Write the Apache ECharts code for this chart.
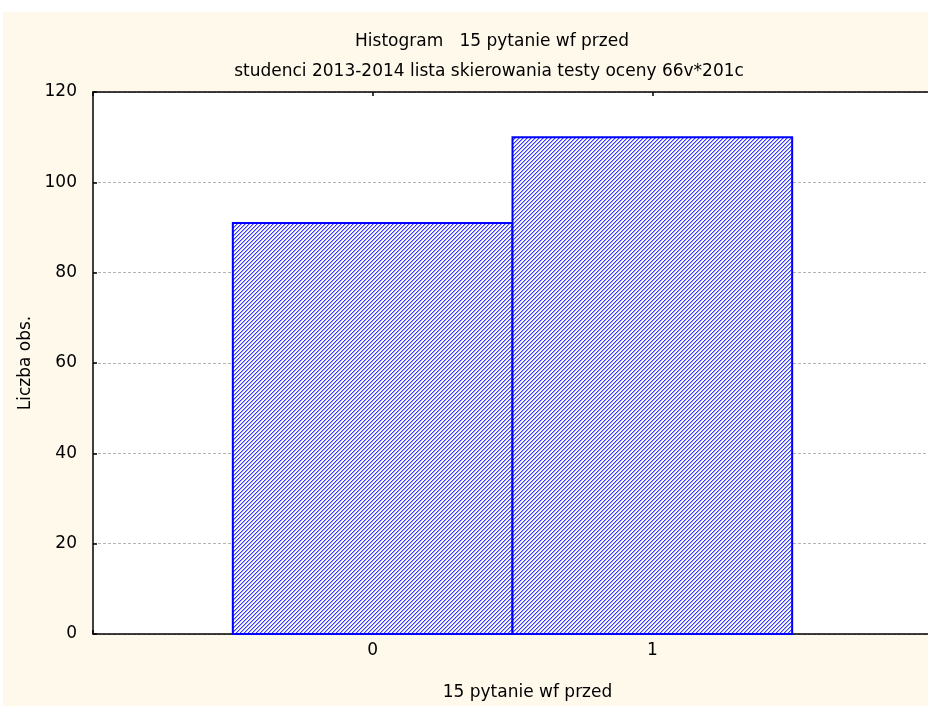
<!DOCTYPE html>
<html>
<head>
<meta charset="utf-8">
<script src="https://cdn.jsdelivr.net/npm/echarts@6/dist/echarts.min.js"></script>
<style>
html,body{margin:0;padding:0;background:#ffffff;}
#chart{width:928px;height:706px;}
</style>
</head>
<body>
<div id="chart"></div>
<script>
// ---- data ----
const titleText = 'Histogram   15 pytanie wf przed';
const subtitleText = 'studenci 2013-2014 lista skierowania testy oceny 66v*201c';
const xAxisName = '15 pytanie wf przed';
const yAxisName = 'Liczba obs.';
const categories = [0, 1];
const binStart = [-0.5, 0.5];
const binEnd = [0.5, 1.5];
const counts = [91, 110];
const yTicks = [0, 20, 40, 60, 80, 100, 120];

// ---- hatch pattern ----
function makeHatch() {
  const c = document.createElement('canvas');
  c.width = 4; c.height = 4;
  const ctx = c.getContext('2d');
  const cols = ['#3c3cff', '#a8a8ff', '#ffffff', '#f0f0ff'];
  for (let x = 0; x < 4; x++) {
    for (let y = 0; y < 4; y++) {
      ctx.fillStyle = cols[(x + y) % 4];
      ctx.fillRect(x, y, 1, 1);
    }
  }
  return c;
}
const hatch = makeHatch();

const font = 'DejaVu Sans';
const fs = 17;
const chart = echarts.init(document.getElementById('chart'), null, {renderer: 'canvas'});

const barData = categories.map((c, i) => [binStart[i], binEnd[i], counts[i]]);

chart.setOption({
  backgroundColor: '#ffffff',
  animation: false,
  graphic: [{
    type: 'rect', z: -100, silent: true,
    shape: {x: 3, y: 12, width: 925, height: 694},
    style: {fill: '#FFF9EC'}
  }],
  title: [{
    text: titleText, left: 487, top: 28, textAlign: 'center',
    textStyle: {fontFamily: font, fontSize: fs, fontWeight: 'normal', color: '#000'}
  }, {
    text: subtitleText, left: 484, top: 58, textAlign: 'center',
    textStyle: {fontFamily: font, fontSize: fs, fontWeight: 'normal', color: '#000'}
  }],
  grid: {
    left: 93, top: 92, width: 839, height: 542,
    outerBoundsMode: 'none', containLabel: false,
    show: true, backgroundColor: '#ffffff', borderWidth: 0
  },
  xAxis: [{
    type: 'value', min: -1, max: 2, interval: 1, position: 'bottom',
    name: xAxisName, nameLocation: 'middle', nameGap: 50,
    nameTextStyle: {fontFamily: font, fontSize: fs, color: '#000', padding: [0, 0, 0, 30]},
    axisLine: {show: true, onZero: false, lineStyle: {color: '#000', width: 1.5}},
    axisTick: {show: true, inside: true, length: 4, lineStyle: {color: '#000', width: 1.5}},
    axisLabel: {
      fontFamily: font, fontSize: fs, color: '#000', margin: 8,
      formatter: v => (categories.indexOf(v) >= 0 ? String(v) : '')
    },
    splitLine: {show: false}
  }, {
    type: 'value', min: -1, max: 2, interval: 1, position: 'top',
    axisLine: {show: true, onZero: false, lineStyle: {color: '#000', width: 1.5}},
    axisTick: {show: true, inside: true, length: 4, lineStyle: {color: '#000', width: 1.5}},
    axisLabel: {show: false},
    splitLine: {show: false}
  }],
  yAxis: [{
    type: 'value', min: yTicks[0], max: yTicks[yTicks.length - 1], interval: 20, position: 'left',
    name: yAxisName, nameLocation: 'middle', nameGap: 58, nameRotate: 90,
    nameTextStyle: {fontFamily: font, fontSize: fs, color: '#000'},
    axisLine: {show: true, onZero: false, lineStyle: {color: '#000', width: 1.5}},
    axisTick: {show: true, inside: true, length: 4, lineStyle: {color: '#000', width: 1.5}},
    axisLabel: {fontFamily: font, fontSize: fs, color: '#000', margin: 16},
    splitLine: {show: true, lineStyle: {color: '#b4b4b4', width: 1, type: [3, 2]}}
  }, {
    type: 'value', min: yTicks[0], max: yTicks[yTicks.length - 1], interval: 20, position: 'right',
    axisLine: {show: true, onZero: false, lineStyle: {color: '#000', width: 1.5}},
    axisTick: {show: true, inside: true, length: 4, lineStyle: {color: '#000', width: 1.5}},
    axisLabel: {show: false},
    splitLine: {show: false}
  }],
  series: [{
    type: 'custom',
    xAxisIndex: 0, yAxisIndex: 0,
    data: barData,
    renderItem: function (params, api) {
      const p0 = api.coord([api.value(0), 0]);
      const p1 = api.coord([api.value(1), api.value(2)]);
      return {
        type: 'rect',
        shape: {x: p0[0], y: p1[1], width: p1[0] - p0[0], height: p0[1] - p1[1]},
        style: {fill: {image: hatch, repeat: 'repeat'}, stroke: '#0000ff', lineWidth: 2}
      };
    },
    z: 5
  }]
});
</script>
</body>
</html>
